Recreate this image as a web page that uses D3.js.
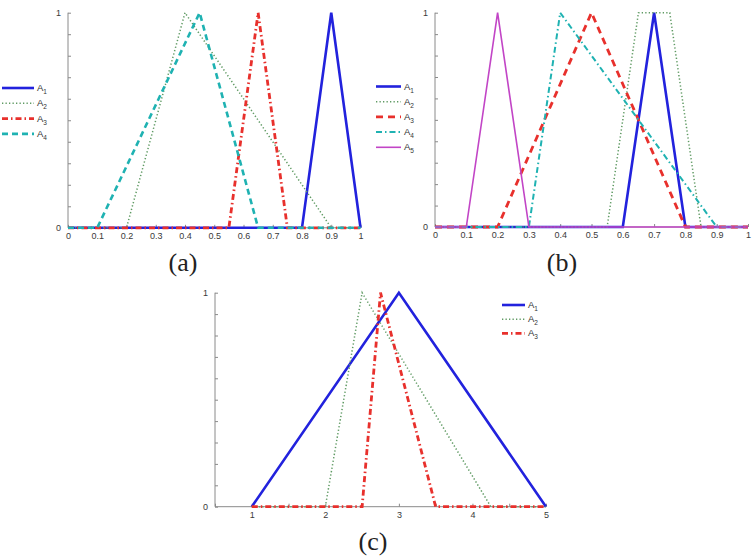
<!DOCTYPE html>
<html>
<head>
<meta charset="utf-8">
<script src="https://cdn.jsdelivr.net/npm/d3@7"></script>
<style>
  html, body { margin: 0; padding: 0; background: #fff; }
  svg { display: block; }
</style>
</head>
<body>
<svg id="chart" width="753" height="558"></svg>
<script>
// ---------- DATA ----------
// Panel (a): membership functions, breakpoints [x, mu]
const aTicks = [0, 0.1, 0.2, 0.3, 0.4, 0.5, 0.6, 0.7, 0.8, 0.9, 1];
const aA1 = [[0, 0], [0.8, 0], [0.9, 1], [1, 0]];
const aA2 = [[0, 0], [0.2, 0], [0.4, 1], [0.9, 0], [1, 0]];
const aA3 = [[0, 0], [0.55, 0], [0.65, 1], [0.75, 0], [1, 0]];
const aA4 = [[0, 0], [0.1, 0], [0.45, 1], [0.65, 0], [1, 0]];

// Panel (b)
const bTicks = [0, 0.1, 0.2, 0.3, 0.4, 0.5, 0.6, 0.7, 0.8, 0.9, 1];
const bA1 = [[0, 0], [0.6, 0], [0.7, 1], [0.8, 0], [1, 0]];
const bA2 = [[0, 0], [0.55, 0], [0.65, 1], [0.75, 1], [0.85, 0], [1, 0]];
const bA3 = [[0, 0], [0.2, 0], [0.5, 1], [0.8, 0], [1, 0]];
const bA4 = [[0, 0], [0.3, 0], [0.4, 1], [0.9, 0], [1, 0]];
const bA5 = [[0, 0], [0.1, 0], [0.2, 1], [0.3, 0], [1, 0]];

// Panel (c)
const cTicks = [0.5, 1, 1.5, 2, 2.5, 3, 3.5, 4, 4.5, 5];
const cTickLabels = [1, 2, 3, 4, 5];
const cA1 = [[1, 0], [3, 1], [5, 0]];
const cA2 = [[1, 0], [2, 0], [2.5, 1], [4.25, 0], [5, 0]];
const cA3 = [[1, 0], [2.5, 0], [2.75, 1], [3.5, 0], [5, 0]];

const yTicks = [0, 0.1, 0.2, 0.3, 0.4, 0.5, 0.6, 0.7, 0.8, 0.9, 1];
const yTickLabels = [0, 1];

// ---------- STYLES ----------
const SANS = "Liberation Sans";
const SERIF = "Liberation Serif";
const BLUE = "#2222dd", GREEN = "#5f9a63", RED = "#e8302c", CYAN = "#1fb2b2", MAGENTA = "#c245c6";
const sSolidBlue = { color: BLUE, width: 2.6, dash: null };
const sDotGreen = { color: GREEN, width: 1.5, dash: "1.3,2.2" };
const sDashDotRed = { color: RED, width: 2.8, dash: "6,3,1.5,3" };
const sDashCyan = { color: CYAN, width: 2.6, dash: "6,4" };
const sDashRed = { color: RED, width: 2.8, dash: "7,5" };
const sDashDotCyan = { color: CYAN, width: 2, dash: "6,3,1.5,3" };
const sSolidMagenta = { color: MAGENTA, width: 1.6, dash: null };

const svg = d3.select("#chart");

function panel(cfg) {
  const x = d3.scaleLinear().domain(cfg.xDomain).range(cfg.xRange);
  const y = d3.scaleLinear().domain([0, 1]).range(cfg.yRange);
  const g = svg.append("g");
  const axisColor = "#8a8a8a";

  // x axis (ticks pointing inside/up)
  const xAxis = d3.axisBottom(x).tickValues(cfg.xTicks).tickSize(-3).tickPadding(0)
    .tickFormat(d => cfg.xLabels.includes(d) ? d3.format("")(d) : "");
  const gx = g.append("g").attr("transform", `translate(0,${cfg.yRange[0]})`).call(xAxis)
    .attr("font-family", SANS).attr("font-size", 9);
  gx.select(".domain").attr("stroke", axisColor).attr("d", `M${cfg.xRange[0]},0H${cfg.xRange[1]}`);
  gx.selectAll(".tick line").attr("stroke", axisColor);
  gx.selectAll(".tick text").attr("y", 11).attr("dy", "0").attr("fill", "#3a3a3a");

  // y axis (ticks inside/right)
  const yAxis = d3.axisLeft(y).tickValues(yTicks).tickSize(-3).tickPadding(0)
    .tickFormat(d => yTickLabels.includes(d) ? d3.format("")(d) : "");
  const gy = g.append("g").attr("transform", `translate(${cfg.xRange[0]},0)`).call(yAxis)
    .attr("font-family", SANS).attr("font-size", 9);
  gy.select(".domain").attr("stroke", axisColor).attr("d", `M0,${cfg.yRange[0]}V${cfg.yRange[1]}`);
  gy.selectAll(".tick line").attr("stroke", axisColor);
  gy.selectAll(".tick text").attr("x", -7).attr("dy", "0.32em").attr("fill", "#3a3a3a");

  const line = d3.line().x(d => x(d[0])).y(d => y(d[1]));
  cfg.series.forEach(s => {
    g.append("path").datum(s.data).attr("d", line)
      .attr("fill", "none").attr("stroke", s.style.color)
      .attr("stroke-width", s.style.width)
      .attr("stroke-dasharray", s.style.dash)
      .attr("stroke-linejoin", "miter");
  });

  // legend
  const lg = g.append("g").attr("font-family", SANS);
  cfg.series.forEach((s, i) => {
    const ly = cfg.legend.y + i * cfg.legend.dy;
    lg.append("line").attr("x1", cfg.legend.x1).attr("x2", cfg.legend.x2)
      .attr("y1", ly).attr("y2", ly)
      .attr("stroke", s.style.color).attr("stroke-width", s.style.width)
      .attr("stroke-dasharray", s.style.dash);
    const t = lg.append("text").attr("x", cfg.legend.x2 + 3).attr("y", ly + 3)
      .attr("fill", "#333").attr("font-size", 9.5);
    t.append("tspan").text("A");
    t.append("tspan").attr("dy", 3).attr("font-size", 6.5).text(s.sub);
  });

  // panel label
  g.append("text").attr("x", cfg.label.x).attr("y", cfg.label.y)
    .attr("text-anchor", "middle").attr("fill", "#222")
    .attr("font-family", SERIF).attr("font-size", 26)
    .text(cfg.label.text);
}

panel({
  xDomain: [0, 1], xRange: [68, 360.5], yRange: [227.8, 12.7],
  xTicks: aTicks, xLabels: aTicks,
  series: [
    { data: aA1, style: sSolidBlue, sub: "1" },
    { data: aA2, style: sDotGreen, sub: "2" },
    { data: aA3, style: sDashDotRed, sub: "3" },
    { data: aA4, style: sDashCyan, sub: "4" }
  ],
  legend: { x1: 2, x2: 34, y: 88, dy: 15.3 },
  label: { x: 183, y: 271, text: "(a)" }
});

panel({
  xDomain: [0, 1], xRange: [435, 748], yRange: [227, 12.7],
  xTicks: bTicks, xLabels: bTicks,
  series: [
    { data: bA1, style: sSolidBlue, sub: "1" },
    { data: bA2, style: sDotGreen, sub: "2" },
    { data: bA3, style: sDashRed, sub: "3" },
    { data: bA4, style: sDashDotCyan, sub: "4" },
    { data: bA5, style: sSolidMagenta, sub: "5" }
  ],
  legend: { x1: 376, x2: 401, y: 86.5, dy: 15.2 },
  label: { x: 562, y: 271, text: "(b)" }
});

panel({
  xDomain: [0.5, 5], xRange: [215, 546], yRange: [506.7, 292.7],
  xTicks: cTicks, xLabels: cTickLabels,
  series: [
    { data: cA1, style: sSolidBlue, sub: "1" },
    { data: cA2, style: sDotGreen, sub: "2" },
    { data: cA3, style: sDashDotRed, sub: "3" }
  ],
  legend: { x1: 502, x2: 525, y: 305, dy: 14.2 },
  label: { x: 373, y: 550, text: "(c)" }
});
</script>
</body>
</html>
